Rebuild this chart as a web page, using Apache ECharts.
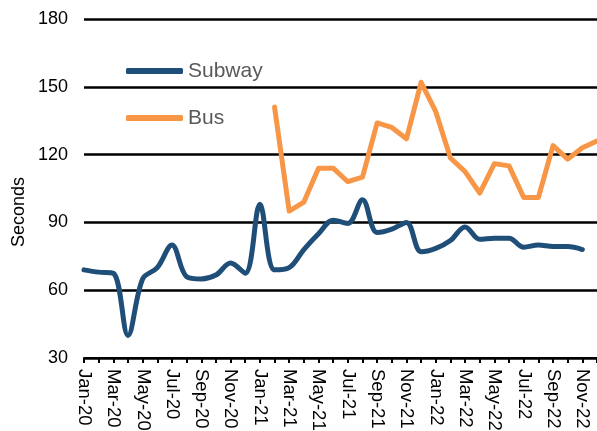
<!DOCTYPE html>
<html>
<head>
<meta charset="utf-8">
<script src="https://cdn.jsdelivr.net/npm/echarts@6/dist/echarts.min.js"></script>
<style>
html,body{margin:0;padding:0;background:#fff;}
#chart{width:597px;height:431px;}
</style>
</head>
<body>
<div id="chart"></div>
<script>
const months = ['Jan-20','Feb-20','Mar-20','Apr-20','May-20','Jun-20','Jul-20','Aug-20','Sep-20','Oct-20','Nov-20','Dec-20',
  'Jan-21','Feb-21','Mar-21','Apr-21','May-21','Jun-21','Jul-21','Aug-21','Sep-21','Oct-21','Nov-21','Dec-21',
  'Jan-22','Feb-22','Mar-22','Apr-22','May-22','Jun-22','Jul-22','Aug-22','Sep-22','Oct-22','Nov-22','Dec-22'];
const subway = [69, 68, 67.5, 40, 65, 70, 80, 66, 65, 66.7, 72, 67.5,
  98, 69, 70, 78, 85, 91, 89.5, 100, 85.5, 87, 90, 77,
  78.5, 82, 88, 82.5, 83, 83, 79, 80, 79.3, 79.3, 78, null];
const bus = [null, null, null, null, null, null, null, null, null, null, null, null,
  null, 141, 95, 99, 114, 114, 108, 110, 134, 132, 127, 152,
  139, 118.5, 112.5, 103, 116, 115, 101, 101, 124, 118, 123, 126];
const yTicks = { min: 30, max: 180, interval: 30 };
const yTitle = 'Seconds';

const chart = echarts.init(document.getElementById('chart'), null, { renderer: 'canvas' });
const font = 'Arial, "Liberation Sans", sans-serif';
chart.setOption({
  animation: false,
  backgroundColor: '#ffffff',
  textStyle: { fontFamily: font },
  grid: { left: 84, right: 0, top: 19, bottom: 73, containLabel: false, outerBoundsMode: 'none' },
  legend: {
    orient: 'vertical', left: 121, top: 55,
    itemWidth: 57, itemHeight: 6, itemGap: 25,
    icon: 'roundRect',
    textStyle: { fontSize: 21, color: '#595959', fontFamily: font, lineHeight: 22 },
    data: ['Subway', 'Bus']
  },
  graphic: [{
    type: 'text', x: 19, y: 212, rotation: Math.PI / 2,
    style: { text: yTitle, fontSize: 18, fontFamily: font, fill: '#000', align: 'center', verticalAlign: 'middle' }
  }],
  xAxis: {
    type: 'category', data: months, boundaryGap: false,
    axisLine: { lineStyle: { color: '#000', width: 2 } },
    axisTick: { show: true, interval: 0, length: 5, lineStyle: { color: '#000', width: 2 } },
    axisLabel: { interval: 1, rotate: -90, fontSize: 18.5, color: '#000', margin: 11, fontFamily: font },
    splitLine: { show: false }
  },
  yAxis: {
    type: 'value', min: yTicks.min, max: yTicks.max, interval: yTicks.interval,
    axisLine: { show: false }, axisTick: { show: false },
    axisLabel: { fontSize: 18, color: '#000', margin: 16, fontFamily: font },
    splitLine: { lineStyle: { color: '#000', width: 2.5 } }
  },
  series: [
    { name: 'Subway', type: 'line', data: subway, smooth: 0.35, symbol: 'none',
      color: '#1F4E79', lineStyle: { width: 5, color: '#1F4E79', cap: 'round', join: 'round' } },
    { name: 'Bus', type: 'line', data: bus, smooth: false, symbol: 'none',
      color: '#F79646', lineStyle: { width: 5, color: '#F79646', cap: 'round', join: 'round' } }
  ]
});
</script>
</body>
</html>
